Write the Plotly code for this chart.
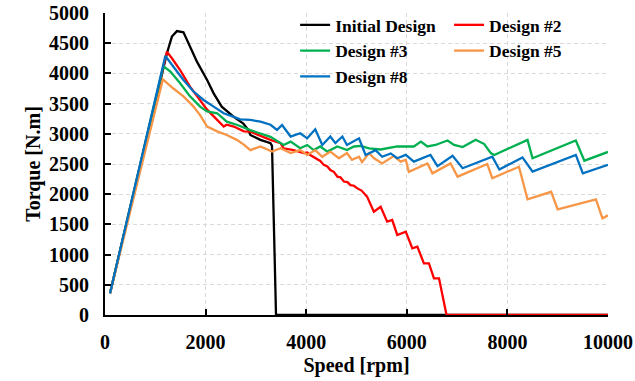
import plotly.graph_objects as go

# Torque-speed envelopes of the motor design variants
speed_initial = [100, 1230, 1330, 1430, 1560, 1690, 1830, 2030, 2160, 2320, 2560, 2750,
                 2850, 2890, 3090, 3290, 3320, 3400, 10000]
torque_initial = [360, 4330, 4610, 4700, 4680, 4440, 4190, 3890, 3670, 3450, 3280, 3170,
                  3060, 2980, 2900, 2845, 2800, 0, 0]

speed_d2 = [100, 1230, 1330, 1490, 1690, 1890, 2030, 2230, 2360, 2420, 2560, 2760, 2890,
            3290, 3490, 3550, 3750, 3950, 4020, 4080, 4150, 4220, 4280, 4350, 4420, 4480,
            4550, 4620, 4680, 4750, 4820, 4880, 4950, 5010, 5100, 5210, 5345, 5480, 5610,
            5710, 5810, 5980, 6110, 6210, 6340, 6440, 6540, 6640, 6790, 10000]
torque_d2 = [360, 4360, 4250, 4060, 3780, 3560, 3400, 3230, 3120, 3150, 3120, 3040, 3035,
             2900, 2845, 2760, 2730, 2680, 2690, 2650, 2610, 2570, 2550, 2485, 2460, 2400,
             2370, 2290, 2280, 2210, 2200, 2150, 2140, 2100, 2060, 1960, 1710, 1790, 1545,
             1573, 1325, 1380, 1104, 1131, 856, 856, 608, 608, 0, 0]

speed_d3 = [100, 1160, 1300, 1490, 1690, 1890, 2030, 2230, 2420, 2620, 2890, 3290, 3550,
            3690, 3880, 4020, 4150, 4280, 4420, 4620, 4810, 4950, 5080, 5250, 5480, 5810,
            6140, 6280, 6410, 6570, 6810, 6940, 7110, 7370, 7540, 7670, 7740, 8400, 8500,
            9360, 9530, 10000]
torque_d3 = [360, 4120, 4030, 3840, 3620, 3450, 3370, 3340, 3200, 3150, 3060, 2950, 2815,
             2870, 2760, 2815, 2730, 2790, 2705, 2790, 2730, 2790, 2800, 2760, 2740, 2790,
             2790, 2870, 2790, 2815, 2890, 2815, 2780, 2900, 2830, 2680, 2650, 2900, 2595,
             2890, 2555, 2700]

speed_d5 = [100, 1150, 1360, 1560, 1760, 1890, 2030, 2230, 2420, 2620, 2760, 2890, 3090,
            3320, 3490, 3690, 3880, 4020, 4180, 4320, 4480, 4650, 4810, 4910, 5050, 5110,
            5250, 5350, 5510, 5740, 5880, 5980, 6040, 6410, 6510, 6870, 7010, 7600, 7700,
            8230, 8400, 8870, 9000, 9760, 9890, 10000]
torque_d5 = [360, 3900, 3750, 3620, 3450, 3310, 3120, 3040, 2980, 2900, 2820, 2730, 2790,
             2705, 2760, 2680, 2730, 2650, 2730, 2620, 2705, 2595, 2680, 2570, 2620, 2530,
             2680, 2595, 2510, 2630, 2540, 2570, 2370, 2510, 2345, 2510, 2290, 2500, 2265,
             2455, 1915, 2040, 1750, 1915, 1600, 1650]

speed_d8 = [100, 1200, 1360, 1560, 1760, 1960, 2160, 2360, 2560, 2690, 2890, 3090, 3290,
            3420, 3520, 3690, 3880, 4020, 4180, 4320, 4480, 4580, 4720, 4810, 5050, 5180,
            5380, 5510, 5680, 5810, 5980, 6140, 6470, 6610, 6910, 7110, 7700, 7840, 8300,
            8500, 9360, 9500, 10000]
torque_d8 = [360, 4290, 4110, 3890, 3700, 3560, 3450, 3340, 3280, 3240, 3230, 3200, 3150,
             3065, 3145, 2955, 3010, 2925, 3075, 2815, 2955, 2845, 2955, 2815, 2925, 2650,
             2730, 2620, 2675, 2595, 2650, 2540, 2650, 2465, 2635, 2430, 2620, 2410, 2610,
             2375, 2650, 2345, 2485]

series = [
    ("Initial Design", speed_initial, torque_initial, "#000000", "legend"),
    ("Design #2", speed_d2, torque_d2, "#ff0000", "legend2"),
    ("Design #3", speed_d3, torque_d3, "#00b050", "legend"),
    ("Design #5", speed_d5, torque_d5, "#f79646", "legend2"),
    ("Design #8", speed_d8, torque_d8, "#0070c0", "legend"),
]

x_ticks = [0, 2000, 4000, 6000, 8000, 10000]
y_ticks = list(range(0, 5001, 500))

FONT = "Times New Roman, Liberation Serif, serif"

fig = go.Figure()
for name, xs, ys, color, leg in series:
    fig.add_trace(go.Scatter(
        x=xs, y=ys, name=name, mode="lines",
        line=dict(color=color, width=2.3),
        legend=leg,
    ))

grid = dict(showgrid=True, gridcolor="#d9d9d9", gridwidth=1.3, griddash="4px,3px")

fig.update_layout(
    width=635, height=381,
    margin=dict(l=105, r=27, t=13, b=66, autoexpand=False),
    paper_bgcolor="white", plot_bgcolor="white",
    font=dict(family=FONT, color="black"),
    showlegend=True,
    legend=dict(x=0.378, y=1.02, xanchor="left", yanchor="top",
                bgcolor="rgba(0,0,0,0)", borderwidth=0,
                font=dict(family=FONT, size=17.5, weight="bold")),
    legend2=dict(x=0.684, y=1.02, xanchor="left", yanchor="top",
                 bgcolor="rgba(0,0,0,0)", borderwidth=0,
                 font=dict(family=FONT, size=17.5, weight="bold")),
    shapes=[dict(type="rect", xref="paper", yref="paper", layer="between",
                 x0=0.376, x1=0.985, y0=0.728, y1=0.985,
                 fillcolor="white", line=dict(width=0))],
)

fig.update_xaxes(
    range=[0, 10000], tickvals=x_ticks, ticktext=[str(v) for v in x_ticks],
    automargin=False,
    showline=True, linecolor="black", linewidth=2.2,
    ticks="inside", ticklen=6, tickwidth=2, tickcolor="black",
    ticklabelstandoff=8,
    tickfont=dict(family=FONT, size=20, weight="bold"),
    title=dict(text="Speed [rpm]", font=dict(family=FONT, size=20, weight="bold"), standoff=6),
    zeroline=False, **grid,
)
fig.update_yaxes(
    range=[0, 5000], tickvals=y_ticks, ticktext=[str(v) for v in y_ticks],
    automargin=False,
    showline=True, linecolor="black", linewidth=2.2,
    ticks="inside", ticklen=6, tickwidth=2, tickcolor="black",
    ticklabelstandoff=10,
    tickfont=dict(family=FONT, size=20, weight="bold"),
    title=dict(text="Torque [N.m]", font=dict(family=FONT, size=20, weight="bold"), standoff=3),
    zeroline=False, **grid,
)

fig.write_html("out.html")
